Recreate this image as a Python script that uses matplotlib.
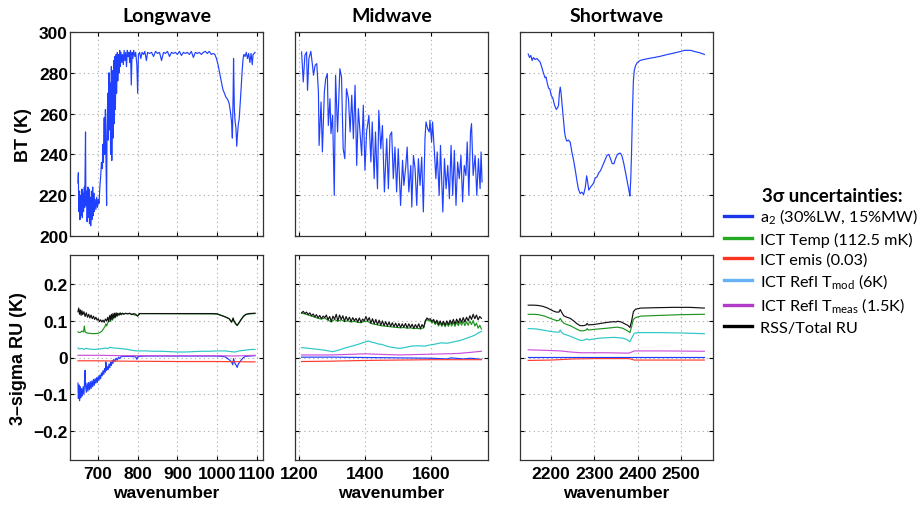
"""BT spectra and 3-sigma radiometric uncertainty terms for the three bands."""
import matplotlib
matplotlib.use("Agg")
import matplotlib.pyplot as plt
from matplotlib.lines import Line2D

# ---- brightness temperature spectra, (wavenumber, BT [K]) ----
LW_BT = [
    (650, 226), (651, 231), (652, 212), (654, 222), (655, 208), (657, 220), (658, 210),
    (660, 223), (661, 209), (663, 221), (664, 212), (666, 224), (667, 214), (669, 251),
    (670, 215), (672, 222), (673, 207), (675, 224), (676, 209), (678, 223), (679, 206),
    (681, 219), (682, 205), (684, 222), (685, 208), (687, 224), (688, 210), (690, 221),
    (691, 212), (693, 218), (695, 213), (697, 219), (699, 214), (701, 218), (703, 216),
    (705, 224), (707, 229), (709, 236), (711, 233), (713, 245), (714, 236), (716, 258),
    (717, 240), (719, 262), (720, 243), (722, 215), (723, 250), (725, 270), (726, 247),
    (728, 280), (729, 252), (731, 275), (732, 240), (734, 283), (735, 237), (737, 281),
    (738, 248), (740, 286), (741, 255), (743, 288), (744, 262), (746, 289), (747, 270),
    (749, 290), (750, 276), (752, 289), (753, 280), (755, 291), (756, 283), (758, 290),
    (760, 285), (762, 289), (764, 284), (766, 291), (768, 286), (770, 290), (772, 283),
    (774, 291), (776, 288), (778, 290), (780, 285), (782, 291), (784, 274), (786, 290),
    (788, 287), (790, 291), (793, 288), (795, 290), (798, 284), (800, 270), (802, 289),
    (805, 290), (808, 287), (811, 290), (815, 289), (818, 290.5), (822, 286), (825, 290),
    (830, 289.5), (835, 290), (840, 288), (845, 290.5), (850, 289.5), (855, 290),
    (860, 286), (865, 290), (870, 289.5), (875, 290.5), (880, 288), (885, 290),
    (890, 289.5), (895, 290), (900, 289), (905, 290.5), (910, 288.5), (915, 290),
    (920, 289.5), (925, 290), (930, 289), (935, 290.5), (940, 287.5), (945, 290),
    (950, 289.5), (955, 290), (960, 289), (965, 290), (970, 290.5), (975, 289.5),
    (980, 290.5), (985, 289), (990, 289.5), (994, 289), (998, 287), (1002, 284),
    (1006, 280), (1010, 276), (1014, 272), (1018, 270), (1022, 268), (1026, 267),
    (1030, 265), (1033, 261), (1036, 256), (1038, 248), (1040, 270), (1041, 287),
    (1043, 262), (1045, 256), (1047, 253), (1049, 244), (1051, 250), (1053, 255),
    (1055, 257), (1058, 266), (1061, 276), (1063, 282), (1065, 287), (1067, 289),
    (1070, 288), (1073, 290), (1076, 287), (1079, 289.5), (1082, 285), (1085, 289.5),
    (1088, 284), (1090, 289), (1093, 289.5), (1095, 290),
]
MW_BT = [
    (1208, 290.2), (1213, 275.5), (1218, 288.6), (1223, 290.2), (1226, 271.4), (1230, 286.9),
    (1236, 290.5), (1241, 283.7), (1244, 278.8), (1249, 283.7), (1254, 284.5), (1259, 270.6),
    (1261, 244.4), (1267, 265.7), (1271, 241.2), (1277, 270.6), (1281, 277.1), (1286, 279.6),
    (1289, 254.2), (1294, 267.3), (1297, 250.2), (1302, 259.2), (1307, 219.9), (1311, 278.8),
    (1317, 251.0), (1324, 282.0), (1329, 277.9), (1334, 242.8), (1339, 237.9), (1344, 272.2),
    (1350, 267.3), (1355, 251.0), (1360, 269.0), (1365, 247.7), (1370, 273.9), (1375, 234.6),
    (1380, 262.4), (1385, 251.0), (1390, 239.5), (1395, 264.1), (1400, 232.2), (1405, 251.0),
    (1412, 259.2), (1418, 236.3), (1422, 255.9), (1428, 228.1), (1432, 251.0), (1438, 223.2),
    (1442, 261.6), (1448, 242.8), (1453, 254.2), (1459, 221.6), (1466, 247.7), (1471, 223.2),
    (1476, 249.3), (1481, 251.0), (1486, 228.1), (1491, 243.6), (1496, 221.6), (1501, 242.8),
    (1508, 215.0), (1514, 237.1), (1518, 224.8), (1524, 234.6), (1528, 243.6), (1533, 221.6),
    (1539, 234.6), (1542, 214.2), (1547, 239.5), (1552, 233.0), (1557, 215.0), (1562, 237.9),
    (1567, 224.8), (1572, 238.7), (1577, 211.8), (1582, 247.7), (1585, 255.9), (1590, 252.6),
    (1595, 251.0), (1597, 256.7), (1602, 246.1), (1605, 255.9), (1610, 242.8), (1615, 228.1),
    (1619, 241.2), (1625, 219.9), (1629, 244.4), (1636, 211.8), (1641, 237.9), (1646, 223.2),
    (1651, 234.6), (1656, 218.3), (1661, 244.4), (1666, 219.9), (1671, 242.0), (1676, 215.0),
    (1681, 236.3), (1686, 228.1), (1691, 239.5), (1696, 216.7), (1701, 234.6), (1706, 229.7),
    (1710, 246.1), (1715, 219.9), (1720, 251.0), (1723, 255.1), (1728, 229.7), (1734, 239.5),
    (1739, 219.9), (1744, 237.9), (1749, 223.2), (1752, 241.2), (1755, 226.5),
]
SW_BT = [
    (2147, 289.2), (2150, 287.5), (2153, 288.5), (2156, 286), (2159, 287.5), (2163, 286.5),
    (2167, 287), (2171, 286), (2174, 285.5), (2178, 283), (2182, 280), (2186, 277.5),
    (2188, 278), (2191, 275), (2194, 272.5), (2197, 272), (2200, 269), (2204, 267.5),
    (2208, 264), (2212, 262), (2215, 263), (2217, 264), (2219, 270), (2221, 273),
    (2223, 270), (2225, 265), (2228, 258), (2231, 251), (2233, 248.5), (2236, 246.5),
    (2240, 247), (2244, 246), (2248, 241), (2252, 237), (2256, 232), (2260, 226.5),
    (2263, 223), (2267, 220.8), (2271, 221.5), (2275, 220.3), (2279, 224), (2282, 229.5),
    (2284, 227), (2287, 222.5), (2291, 224), (2295, 225), (2298, 226), (2302, 228.5),
    (2306, 229), (2310, 231), (2314, 232), (2318, 234), (2322, 236), (2326, 238),
    (2329, 239.5), (2333, 240), (2337, 238), (2341, 235.5), (2345, 235.4), (2349, 238),
    (2353, 240), (2357, 240.5), (2360, 240.6), (2364, 239), (2368, 235.4), (2372, 231),
    (2376, 226.5), (2380, 222), (2382, 219.6), (2384, 228), (2386, 243), (2388, 262),
    (2390, 276), (2392, 281), (2395, 283.5), (2399, 285), (2405, 286), (2415, 286.6),
    (2425, 287), (2438, 287.5), (2450, 288), (2460, 288.5), (2469, 289), (2480, 289.5),
    (2490, 290), (2500, 290.5), (2508, 291), (2515, 291), (2523, 291), (2530, 290.5),
    (2540, 290), (2548, 289.5), (2554, 289),
]

# ---- 3-sigma RU terms, (wavenumber, K) ----
LW_A2 = [
    (650, -0.07), (651, -0.112), (653, -0.075), (654, -0.118), (656, -0.08), (657, -0.11),
    (659, -0.085), (661, -0.105), (663, -0.08), (665, -0.1), (667, -0.06), (668, -0.035),
    (669, -0.075), (671, -0.095), (673, -0.07), (675, -0.092), (677, -0.068), (679, -0.088),
    (681, -0.066), (683, -0.085), (685, -0.064), (687, -0.08), (689, -0.06), (691, -0.076),
    (693, -0.058), (695, -0.07), (697, -0.055), (699, -0.068), (701, -0.052), (703, -0.062),
    (705, -0.048), (707, -0.058), (709, -0.042), (711, -0.05), (713, -0.036), (715, -0.046),
    (717, -0.03), (719, -0.04), (720, -0.012), (722, -0.035), (724, -0.025), (726, -0.033),
    (728, -0.018), (730, -0.028), (732, -0.013), (734, -0.022), (736, -0.008), (738, -0.016),
    (740, -0.005), (743, -0.011), (746, -0.002), (749, -0.007), (752, 0.001), (755, -0.003),
    (758, 0.002), (765, 0.003), (780, 0.003), (795, 0.002), (798, -0.005), (801, 0.003),
    (820, 0.004), (900, 0.004), (1000, 0.004), (1020, 0.002), (1030, -0.006), (1036, -0.012),
    (1039, -0.02), (1041, -0.003), (1044, -0.015), (1048, -0.022), (1050, -0.027),
    (1053, -0.018), (1058, -0.01), (1064, -0.002), (1070, 0.003), (1080, 0.004), (1095, 0.005),
]
LW_TEMP = [
    (650, 0.07), (655, 0.068), (660, 0.072), (664, 0.07), (666, 0.086), (668, 0.07),
    (672, 0.067), (680, 0.066), (690, 0.065), (700, 0.066), (705, 0.068), (710, 0.072),
    (714, 0.078), (718, 0.085), (720, 0.092), (722, 0.086), (725, 0.095), (728, 0.1),
    (731, 0.098), (734, 0.106), (737, 0.102), (740, 0.112), (743, 0.108), (746, 0.117),
    (749, 0.113), (752, 0.119), (755, 0.116), (758, 0.12), (780, 0.12), (800, 0.114),
    (805, 0.12), (1000, 0.119), (1010, 0.115), (1020, 0.111), (1030, 0.106), (1036, 0.096),
    (1040, 0.106), (1042, 0.099), (1046, 0.092), (1050, 0.087), (1054, 0.093),
    (1060, 0.103), (1066, 0.112), (1072, 0.117), (1080, 0.119), (1095, 0.12),
]
LW_EMIS = [(650, -0.009), (700, -0.009), (760, -0.01), (900, -0.011), (1000, -0.011), (1095, -0.012)]
LW_REFL_MOD = [
    (650, 0.026), (655, 0.023), (660, 0.025), (665, 0.022), (670, 0.025), (680, 0.023),
    (690, 0.022), (700, 0.023), (710, 0.024), (720, 0.026), (725, 0.024), (730, 0.028),
    (740, 0.026), (750, 0.025), (760, 0.024), (770, 0.023), (780, 0.021), (790, 0.019),
    (800, 0.018), (820, 0.018), (840, 0.017), (860, 0.017), (880, 0.016), (900, 0.015),
    (920, 0.015), (940, 0.016), (960, 0.017), (980, 0.017), (1000, 0.018), (1020, 0.018),
    (1035, 0.016), (1045, 0.015), (1055, 0.018), (1070, 0.02), (1085, 0.022), (1095, 0.022),
]
LW_REFL_MEAS = [(650, 0.006), (700, 0.006), (760, 0.005), (900, 0.005), (1000, 0.005), (1040, 0.004), (1095, 0.006)]
LW_RSS = [
    (650, 0.125), (652, 0.135), (654, 0.118), (656, 0.13), (658, 0.115), (660, 0.128),
    (662, 0.117), (665, 0.125), (668, 0.112), (671, 0.122), (674, 0.11), (677, 0.118),
    (680, 0.108), (683, 0.116), (686, 0.106), (689, 0.113), (692, 0.104), (695, 0.11),
    (698, 0.102), (701, 0.106), (704, 0.098), (707, 0.103), (710, 0.097), (713, 0.102),
    (716, 0.096), (719, 0.105), (722, 0.1), (725, 0.11), (727, 0.098), (730, 0.115),
    (732, 0.102), (734, 0.118), (736, 0.105), (738, 0.12), (740, 0.108), (742, 0.121),
    (744, 0.11), (746, 0.122), (748, 0.113), (750, 0.121), (753, 0.116), (756, 0.122),
    (759, 0.117), (762, 0.121), (765, 0.118), (770, 0.121), (775, 0.119), (780, 0.121),
    (785, 0.117), (790, 0.12), (795, 0.118), (800, 0.113), (805, 0.12), (900, 0.12),
    (990, 0.12), (1000, 0.119), (1010, 0.115), (1020, 0.111), (1030, 0.106), (1036, 0.097),
    (1040, 0.108), (1042, 0.1), (1046, 0.093), (1050, 0.088), (1054, 0.094), (1060, 0.104),
    (1066, 0.113), (1072, 0.118), (1080, 0.12), (1095, 0.121),
]

MW_A2 = [(1208, 0.001), (1300, 0.001), (1400, 0.0), (1500, -0.001), (1600, -0.002),
         (1650, -0.004), (1660, -0.001), (1700, -0.004), (1720, -0.002), (1753, -0.005)]
MW_TEMP = [
    (1208, 0.121), (1218, 0.119), (1228, 0.116), (1238, 0.113), (1248, 0.11), (1258, 0.107),
    (1268, 0.105), (1278, 0.108), (1288, 0.102), (1298, 0.097), (1308, 0.104), (1318, 0.099),
    (1328, 0.103), (1338, 0.098), (1348, 0.1), (1358, 0.097), (1368, 0.099), (1378, 0.096),
    (1388, 0.095), (1398, 0.099), (1408, 0.099), (1418, 0.093), (1428, 0.091), (1438, 0.089),
    (1448, 0.087), (1458, 0.086), (1468, 0.085), (1478, 0.084), (1488, 0.083), (1498, 0.082),
    (1508, 0.081), (1518, 0.082), (1528, 0.08), (1538, 0.081), (1548, 0.079), (1558, 0.08),
    (1568, 0.078), (1578, 0.081), (1583, 0.098), (1588, 0.104), (1593, 0.1), (1598, 0.102),
    (1603, 0.094), (1608, 0.099), (1613, 0.09), (1618, 0.097), (1623, 0.086), (1628, 0.095),
    (1633, 0.085), (1638, 0.094), (1643, 0.084), (1648, 0.094), (1653, 0.085), (1658, 0.095),
    (1663, 0.086), (1668, 0.096), (1673, 0.085), (1678, 0.097), (1683, 0.087), (1688, 0.098),
    (1693, 0.088), (1698, 0.099), (1703, 0.087), (1708, 0.098), (1713, 0.088), (1718, 0.1),
    (1723, 0.09), (1728, 0.101), (1733, 0.086), (1738, 0.094), (1743, 0.08), (1748, 0.088),
    (1753, 0.078),
]
MW_EMIS = [(1208, -0.011), (1300, -0.01), (1400, -0.008), (1500, -0.007), (1600, -0.006), (1700, -0.006), (1753, -0.006)]
MW_REFL_MOD = [
    (1208, 0.027), (1230, 0.025), (1250, 0.023), (1270, 0.021), (1290, 0.018), (1303, 0.016),
    (1320, 0.02), (1340, 0.026), (1360, 0.031), (1380, 0.036), (1395, 0.041), (1410, 0.045),
    (1420, 0.042), (1430, 0.04), (1440, 0.037), (1450, 0.036), (1460, 0.033), (1470, 0.03),
    (1480, 0.028), (1495, 0.026), (1506, 0.025), (1520, 0.027), (1540, 0.031), (1560, 0.032),
    (1580, 0.031), (1596, 0.034), (1610, 0.036), (1630, 0.04), (1650, 0.039), (1670, 0.043),
    (1687, 0.046), (1700, 0.05), (1715, 0.055), (1725, 0.058), (1735, 0.062), (1745, 0.068),
    (1753, 0.071),
]
MW_REFL_MEAS = [(1208, 0.007), (1300, 0.007), (1400, 0.01), (1500, 0.007), (1600, 0.009),
                (1680, 0.011), (1720, 0.014), (1753, 0.017)]
MW_RSS = [
    (1208, 0.122), (1213, 0.126), (1218, 0.12), (1223, 0.124), (1228, 0.117), (1233, 0.122),
    (1238, 0.114), (1243, 0.119), (1248, 0.111), (1253, 0.117), (1258, 0.108), (1263, 0.115),
    (1268, 0.106), (1273, 0.113), (1278, 0.109), (1283, 0.116), (1288, 0.103), (1293, 0.112),
    (1298, 0.098), (1303, 0.113), (1308, 0.105), (1313, 0.118), (1318, 0.1), (1323, 0.116),
    (1328, 0.104), (1333, 0.114), (1338, 0.099), (1343, 0.112), (1348, 0.101), (1353, 0.11),
    (1358, 0.098), (1363, 0.109), (1368, 0.1), (1373, 0.107), (1378, 0.097), (1383, 0.108),
    (1388, 0.096), (1393, 0.105), (1398, 0.1), (1403, 0.112), (1408, 0.1), (1413, 0.109),
    (1418, 0.094), (1423, 0.106), (1428, 0.092), (1433, 0.104), (1438, 0.09), (1443, 0.102),
    (1448, 0.088), (1453, 0.1), (1458, 0.087), (1463, 0.098), (1468, 0.086), (1473, 0.097),
    (1478, 0.085), (1483, 0.095), (1488, 0.084), (1493, 0.094), (1498, 0.083), (1503, 0.093),
    (1508, 0.082), (1513, 0.092), (1518, 0.083), (1523, 0.093), (1528, 0.081), (1533, 0.092),
    (1538, 0.082), (1543, 0.091), (1548, 0.08), (1553, 0.09), (1558, 0.081), (1563, 0.092),
    (1568, 0.079), (1573, 0.09), (1578, 0.082), (1583, 0.1), (1588, 0.108), (1593, 0.104),
    (1598, 0.106), (1603, 0.098), (1608, 0.104), (1613, 0.094), (1618, 0.102), (1623, 0.09),
    (1628, 0.1), (1633, 0.089), (1638, 0.099), (1643, 0.088), (1648, 0.1), (1653, 0.09),
    (1658, 0.102), (1663, 0.092), (1668, 0.104), (1673, 0.091), (1678, 0.105), (1683, 0.094),
    (1688, 0.107), (1693, 0.096), (1698, 0.109), (1703, 0.097), (1708, 0.11), (1713, 0.1),
    (1718, 0.114), (1723, 0.104), (1728, 0.118), (1733, 0.106), (1738, 0.116), (1743, 0.103),
    (1748, 0.112), (1753, 0.107),
]

SW_A2 = [(2147, 0.001), (2300, 0.001), (2554, 0.001)]
SW_TEMP = [
    (2147, 0.118), (2160, 0.118), (2171, 0.117), (2185, 0.113), (2200, 0.106), (2212, 0.101),
    (2218, 0.101), (2221, 0.107), (2224, 0.101), (2229, 0.094), (2236, 0.09), (2244, 0.087),
    (2252, 0.082), (2260, 0.077), (2267, 0.073), (2275, 0.073), (2281, 0.075), (2283, 0.079),
    (2286, 0.075), (2300, 0.077), (2320, 0.079), (2345, 0.082), (2353, 0.083), (2365, 0.08),
    (2375, 0.074), (2382, 0.068), (2386, 0.085), (2390, 0.104), (2395, 0.109), (2407, 0.113),
    (2450, 0.115), (2500, 0.117), (2554, 0.118),
]
SW_EMIS = [(2147, -0.008), (2200, -0.007), (2250, -0.004), (2300, -0.003), (2380, -0.003),
           (2392, -0.007), (2554, -0.007)]
SW_REFL_MOD = [
    (2147, 0.079), (2165, 0.078), (2185, 0.074), (2205, 0.07), (2218, 0.069), (2221, 0.075),
    (2224, 0.069), (2229, 0.064), (2240, 0.06), (2252, 0.054), (2267, 0.047), (2275, 0.047),
    (2283, 0.051), (2286, 0.048), (2300, 0.051), (2314, 0.053), (2345, 0.055), (2365, 0.053),
    (2375, 0.049), (2382, 0.043), (2387, 0.055), (2392, 0.066), (2400, 0.068), (2450, 0.068),
    (2500, 0.067), (2554, 0.065),
]
SW_REFL_MEAS = [(2147, 0.021), (2200, 0.019), (2221, 0.018), (2245, 0.015), (2267, 0.013),
                (2320, 0.013), (2380, 0.012), (2392, 0.018), (2450, 0.018), (2554, 0.017)]
SW_RSS = [
    (2147, 0.143), (2160, 0.143), (2171, 0.142), (2180, 0.14), (2190, 0.136), (2200, 0.13),
    (2205, 0.127), (2212, 0.124), (2218, 0.124), (2221, 0.131), (2224, 0.124), (2229, 0.114),
    (2236, 0.11), (2244, 0.107), (2252, 0.1), (2260, 0.092), (2267, 0.087), (2275, 0.087),
    (2281, 0.089), (2283, 0.093), (2286, 0.089), (2298, 0.09), (2314, 0.093), (2330, 0.096),
    (2345, 0.098), (2350, 0.097), (2353, 0.099), (2362, 0.097), (2370, 0.092), (2377, 0.088),
    (2382, 0.082), (2386, 0.1), (2390, 0.125), (2395, 0.132), (2407, 0.135), (2440, 0.136),
    (2484, 0.137), (2520, 0.137), (2554, 0.135),
]

BAND_TITLES = ["Longwave", "Midwave", "Shortwave"]
BAND_XLIM = [(630, 1115), (1188, 1773), (2128, 2574)]
BAND_XTICKS = [[700, 800, 900, 1000, 1100], [1200, 1400, 1600], [2200, 2300, 2400, 2500]]
BT_TICKS = [200, 220, 240, 260, 280, 300]
RU_TICKS = [-0.2, -0.1, 0, 0.1, 0.2]
RU_TICKLABELS = ["\u22120.2", "\u22120.1", "0", "0.1", "0.2"]

LEGEND_LABELS = [
    "a$_2$ (30%LW, 15%MW)",
    "ICT Temp (112.5 mK)",
    "ICT emis (0.03)",
    "ICT Refl T$_{\\mathrm{mod}}$ (6K)",
    "ICT Refl T$_{\\mathrm{meas}}$ (1.5K)",
    "RSS/Total RU",
]

# plot colours (as they look on the panels) and legend swatch colours
LINE_COLORS = ["#1f3dff", "#1f931f", "#ff3b2f", "#2cc6c6", "#cc4fdc", "#111111"]
SWATCH_COLORS = ["#1a36e8", "#22a822", "#ff3322", "#66b2f5", "#b03cc8", "#000000"]
BT_COLOR = "#2040ff"
GRID_GRAY = "#a8a8a8"

TICK_FONT = "Liberation Sans"
TEXT_FONT = ["Lato", "DejaVu Sans"]


def _unzip(pairs):
    xs, ys = zip(*pairs)
    return list(xs), list(ys)


def _bold_ticks(ax):
    for lab in ax.get_xticklabels() + ax.get_yticklabels():
        lab.set_fontfamily(TICK_FONT)
        lab.set_fontweight("bold")


def _style(ax, xlim, xticks, ylim, yticks):
    ax.set_xlim(*xlim)
    ax.set_ylim(*ylim)
    ax.set_xticks(xticks)
    ax.set_yticks(yticks)
    ax.grid(True, color=GRID_GRAY, ls=(0, (1, 3)), lw=0.8)
    ax.tick_params(direction="in", top=True, right=True, length=3, width=0.8,
                   labelsize=12.5)
    ax.tick_params(axis="y", pad=1.5)
    ax.tick_params(axis="x", pad=4)
    _bold_ticks(ax)
    for sp in ax.spines.values():
        sp.set_color("#333333")
        sp.set_linewidth(0.9)


def main():
    plt.rcParams["mathtext.fontset"] = "custom"
    plt.rcParams["mathtext.rm"] = "Lato"

    fig = plt.figure(figsize=(9.18, 5.06), dpi=100)
    lefts = [70 / 918, 295 / 918, 520 / 918]
    width = 193 / 918
    top_y, top_h = 1 - 237 / 506, 204 / 506
    bot_y, bot_h = 1 - 461 / 506, 205 / 506

    bt_series = [LW_BT, MW_BT, SW_BT]
    ru_series = [
        [LW_A2, LW_TEMP, LW_EMIS, LW_REFL_MOD, LW_REFL_MEAS, LW_RSS],
        [MW_A2, MW_TEMP, MW_EMIS, MW_REFL_MOD, MW_REFL_MEAS, MW_RSS],
        [SW_A2, SW_TEMP, SW_EMIS, SW_REFL_MOD, SW_REFL_MEAS, SW_RSS],
    ]

    for i in range(3):
        ax_t = fig.add_axes([lefts[i], top_y, width, top_h])
        x, y = _unzip(bt_series[i])
        ax_t.plot(x, y, color=BT_COLOR, lw=0.85)
        _style(ax_t, BAND_XLIM[i], BAND_XTICKS[i], (200, 300), BT_TICKS)
        ax_t.set_xticklabels([])
        ax_t.set_title(BAND_TITLES[i], family=TEXT_FONT, fontweight="bold",
                       fontsize=14, pad=8)

        ax_b = fig.add_axes([lefts[i], bot_y, width, bot_h])
        for pairs, col in zip(ru_series[i], LINE_COLORS):
            x, y = _unzip(pairs)
            ax_b.plot(x, y, color=col, lw=0.85)
        _style(ax_b, BAND_XLIM[i], BAND_XTICKS[i], (-0.28, 0.28), RU_TICKS)
        ax_b.set_yticklabels(RU_TICKLABELS)
        _bold_ticks(ax_b)
        ax_b.set_xlabel("wavenumber", family=TICK_FONT, fontweight="bold",
                        fontsize=12.5, labelpad=3.5)

        if i == 0:
            ax_t.set_ylabel("BT (K)", family=TICK_FONT, fontweight="bold",
                            fontsize=13, labelpad=5)
            ax_b.set_ylabel("3\u2013sigma RU (K)", family=TICK_FONT, fontweight="bold",
                            fontsize=13, labelpad=5)
        else:
            ax_t.set_yticklabels([])
            ax_b.set_yticklabels([])

    # legend; title placed separately so it lines up with the labels
    fig.text(762 / 918, 1 - 197 / 506, "3\u03c3 uncertainties:", family=TEXT_FONT,
             fontweight="bold", fontsize=13.5, va="center", ha="left")
    handles = [Line2D([], [], color=c, lw=2.4) for c in SWATCH_COLORS]
    fig.legend(handles, LEGEND_LABELS, loc="upper left",
               bbox_to_anchor=(724 / 918, 1 - 208 / 506), frameon=False,
               prop={"family": TEXT_FONT, "size": 11.7}, handlelength=1.75,
               handletextpad=0.45, labelspacing=0.32, borderpad=0, borderaxespad=0)

    fig.savefig("out.png", dpi=100)
    plt.close(fig)


if __name__ == "__main__":
    main()
